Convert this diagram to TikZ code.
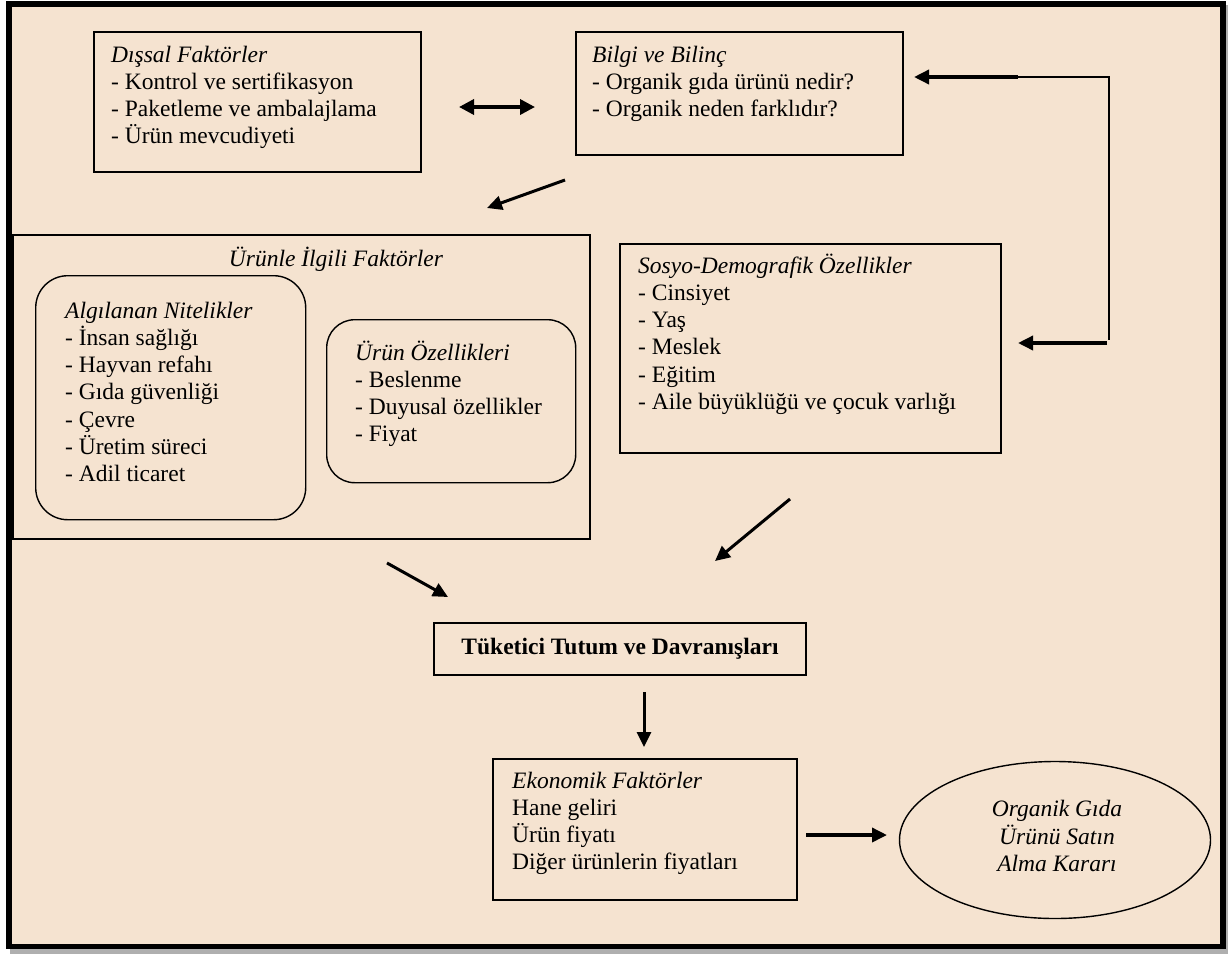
\documentclass[tikz,border=0pt]{standalone}
\usepackage{fontspec}
\setmainfont{Liberation Serif}
\usetikzlibrary{arrows.meta,shapes.geometric}
\definecolor{bg}{RGB}{245,227,208}
\definecolor{shadowgray}{RGB}{175,175,175}
\newcommand\tstrut{\rule{0pt}{22pt}}
\begin{document}
\begin{tikzpicture}[x=1pt,y=-1pt,
  box/.style={draw=black,line width=1.8pt,inner sep=0pt,anchor=north west},
  rbox/.style={draw=black,line width=1.4pt,inner sep=0pt,anchor=north west},
  txt/.style={anchor=north west,inner sep=0pt,align=left,font=\fontsize{23.5}{27.2}\selectfont},
  ctxt/.style={inner sep=0pt,align=center,font=\fontsize{23.5}{27.2}\selectfont},
  arr/.style={line width=3pt,-{Triangle[length=15pt,width=14pt]}},
  darr/.style={line width=3.5pt,{Triangle[length=15pt,width=15pt]}-{Triangle[length=15pt,width=15pt]}},
  thin/.style={line width=1.6pt}
]
\useasboundingbox (0,0) rectangle (1228,954);
% frame with shadow
\fill[shadowgray] (10,944) rectangle (1228,954);
\fill[shadowgray] (1220,5) rectangle (1228,954);
\fill[black] (6,1) rectangle (1226,949);
\fill[bg] (12,7) rectangle (1220,944);

% boxes
\node[box,minimum width=327pt,minimum height=140pt] (dis) at (93,31) {};
\node[txt] (distxt) at (111,40) {\tstrut\textit{Dışsal Faktörler}\\- Kontrol ve sertifikasyon\\- Paketleme ve ambalajlama\\- Ürün mevcudiyeti};

\node[box,minimum width=327pt,minimum height=123pt] (bilgi) at (575,31) {};
\node[txt] (bilgitxt) at (592,40) {\tstrut\textit{Bilgi ve Bilinç}\\- Organik gıda ürünü nedir?\\- Organik neden farklıdır?};

\node[box,minimum width=577pt,minimum height=304pt] (urunle) at (12,234) {};
\node[ctxt,anchor=base] (urunletxt) at (336,266) {\textit{Ürünle İlgili Faktörler}};

\node[rbox,rounded corners=32pt,minimum width=270pt,minimum height=244pt] (algi) at (35,275) {};
\node[txt] (algitxt) at (65,296) {\tstrut\textit{Algılanan Nitelikler}\\- İnsan sağlığı\\- Hayvan refahı\\- Gıda güvenliği\\- Çevre\\- Üretim süreci\\- Adil ticaret};

\node[rbox,rounded corners=28pt,minimum width=249pt,minimum height=163pt] (ozel) at (326,319) {};
\node[txt] (ozeltxt) at (355,338) {\tstrut\textit{Ürün Özellikleri}\\- Beslenme\\- Duyusal özellikler\\- Fiyat};

\node[box,minimum width=381pt,minimum height=209pt] (sosyo) at (619,243) {};
\node[txt] (sosyotxt) at (638,251) {\tstrut\textit{Sosyo-Demografik Özellikler}\\- Cinsiyet\\- Yaş\\- Meslek\\- Eğitim\\- Aile büyüklüğü ve çocuk varlığı};

\node[box,anchor=center,minimum width=372pt,minimum height=52pt,font=\fontsize{23.5}{27.2}\selectfont\bfseries] (tuketici) at (620,649) {Tüketici Tutum ve Davranışları};

\node[box,minimum width=304pt,minimum height=141pt] (eko) at (492,758) {};
\node[txt] (ekotxt) at (512,766) {\tstrut\textit{Ekonomik Faktörler}\\Hane geliri\\Ürün fiyatı\\Diğer ürünlerin fiyatları};

\node[draw=black,line width=1.4pt,ellipse,inner sep=0pt,minimum width=311pt,minimum height=157pt] (karar) at (1055,840) {};
\node[ctxt] (karartxt) at (1057,836) {\textit{Organik Gıda}\\\textit{Ürünü Satın}\\\textit{Alma Kararı}};

% connector points
\coordinate (d1) at (459,107);
\coordinate (d2) at (535,107);
\coordinate (b1) at (565,180);
\coordinate (b2) at (487,208);
\coordinate (e1) at (1018,77);
\coordinate (e0) at (914,77);
\coordinate (ec) at (1109,77);
\coordinate (ed) at (1109,340);
\coordinate (f1) at (1107,343);
\coordinate (f0) at (1018,343);
\coordinate (s1) at (790,499);
\coordinate (s0) at (715,561);
\coordinate (u1) at (387,563);
\coordinate (u0) at (448,597);
\coordinate (t1) at (644,692);
\coordinate (t0) at (644,747);
\coordinate (k1) at (806,835);
\coordinate (k0) at (887,835);

% connectors
\draw[darr] (d1) -- (d2);
\draw[arr] (b1) -- (b2);
\draw[thin] (e1) -- (ec) -- (ed);
\draw[arr,line width=3.5pt] (e1) -- (e0);
\draw[arr,line width=3.5pt] (f1) -- (f0);
\draw[arr] (s1) -- (s0);
\draw[arr] (u1) -- (u0);
\draw[arr] (t1) -- (t0);
\draw[arr,line width=3.5pt] (k1) -- (k0);
\end{tikzpicture}
\end{document}
